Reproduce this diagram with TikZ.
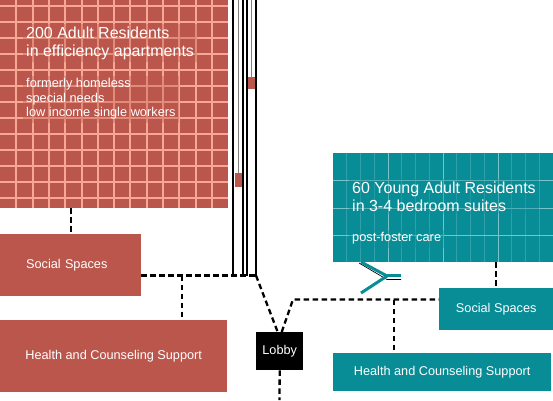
\documentclass[tikz,border=0pt]{standalone}
\usepackage{fontspec}
\setmainfont{Liberation Sans}
\usetikzlibrary{positioning}

\definecolor{brick}{RGB}{187,86,76}
\definecolor{brickline}{RGB}{246,168,148}
\definecolor{sea}{RGB}{8,140,150}
\definecolor{seaminor}{RGB}{50,160,170}
\definecolor{seamajor}{RGB}{120,196,202}

\begin{document}
\begin{tikzpicture}[
    x=1pt, y=-1pt,
    block/.style={
        rectangle,
        fill=#1,
        anchor=north west,
        inner sep=0pt
    },
    boxtext/.style={
        text=white,
        font=\fontsize{12.7}{14.5}\selectfont
    },
    bigtext/.style={
        anchor=north west,
        align=left,
        text=white,
        inner sep=3pt,
        fill=#1,
        fill opacity=0.35,
        text opacity=1,
        font=\fontsize{16}{17.8}\selectfont
    },
    smalltext/.style={
        bigtext=#1,
        font=\fontsize{12.8}{14.5}\selectfont
    },
    link/.style={
        draw,
        line width=2.3pt,
        dash pattern=on 5.5pt off 3.5pt
    },
    shaft/.style={
        draw,
        line width=1.1pt
    },
    cable/.style={
        draw,
        gray,
        line width=0.6pt
    }
]
    \useasboundingbox (0,0) rectangle (553,400);

    % --- Housing blocks ---

    % Adult block (red grid)
    \node [block=brick, minimum width=228, minimum height=208] (adult) at (0,0) {};
    \foreach \i in {1,...,13}
        \draw [brickline, line width=2pt] (16.3*\i,0) -- (16.3*\i,208);
    \foreach \j in {0,...,12}
        \draw [brickline, line width=2pt] (0,6+16*\j) -- (228,6+16*\j);

    \node [bigtext=brick] (adulttitle) at (23,23.5)
        {200 Adult Residents\\in efficiency apartments};
    \node [smalltext=brick] (adultnote) at (23,75.5)
        {formerly homeless\\special needs\\low income single workers};

    % Young adult block (teal grid)
    \node [block=sea, minimum width=220, minimum height=109] (young) at (333,153) {};
    \foreach \i in {1,...,15}
        \draw [seaminor, line width=0.6pt] (333+13.75*\i,153) -- (333+13.75*\i,262);
    \foreach \i in {4,8,12}
        \draw [seamajor, line width=0.9pt] (333+13.75*\i,153) -- (333+13.75*\i,262);
    \foreach \y in {180.5,208,235.5}
        \draw [seamajor, line width=1pt] (333,\y) -- (553,\y);

    \node [bigtext=sea] (youngtitle) at (349,178.5)
        {60 Young Adult Residents\\in 3-4 bedroom suites};
    \node [smalltext=sea] (youngnote) at (349,229.5) {post-foster care};

    % --- Elevator shafts ---
    \foreach \x in {233,243,247,256}
        \draw [shaft] (\x,0) -- (\x,275.5);
    \draw [cable] (238.3,0) -- (238.3,173);
    \draw [cable] (251.7,0) -- (251.7,77);
    \fill [brick] (235,173) rectangle (242,187);
    \fill [brick] (248.3,77) rectangle (255,89);
    \coordinate (hub) at (256,275.5);

    % --- Service boxes ---
    \node [block=brick, minimum height=62, text width=89, inner xsep=26pt,
           align=left, boxtext] (socialL) at (0,234) {Social Spaces};
    \node [block=brick, minimum width=227, minimum height=72, boxtext]
        (healthL) at (0,320) {Health and Counseling Support};
    \node [block=black, minimum width=47, minimum height=38, boxtext]
        (lobby) at (256,332) {Lobby};
    \node [block=sea, minimum width=114, minimum height=42, boxtext]
        (socialR) at (439,288) {Social Spaces};
    \node [block=sea, minimum width=218, minimum height=38, boxtext]
        (healthR) at (333,353) {Health and Counseling Support};

    % --- Ramp to the young adult block ---
    \draw [line width=0.7pt] (359,263) -- (387,279.5) -- (401,279.5);
    \draw [sea, line width=3pt] (361,262) -- (387,276) -- (361,293);
    \draw [sea, line width=3pt] (387,275.5) -- (401,275.5);

    % --- Connections ---
    \coordinate (tapL) at (182,275.5);
    \coordinate (bend) at (293,299.5);
    \coordinate (tapR) at (394,299.5);
    \coordinate (exit) at (279.5,400);

    \path [link] (adult.south -| socialL.north) -- (socialL.north);
    \path [link] (socialL.east |- hub) -- (hub);
    \path [link] (tapL) -- (tapL |- healthL.north);
    \path [link] (hub) -- ([xshift=-2pt]lobby.north);
    \path [link] ([xshift=2pt]lobby.north) -- (bend) -- (bend -| socialR.west);
    \path [link] (tapR) -- (tapR |- healthR.north);
    \path [link] (young.south -| socialR.north) -- (socialR.north);
    \path [link] (lobby.south) -- (exit);

\end{tikzpicture}
\end{document}
